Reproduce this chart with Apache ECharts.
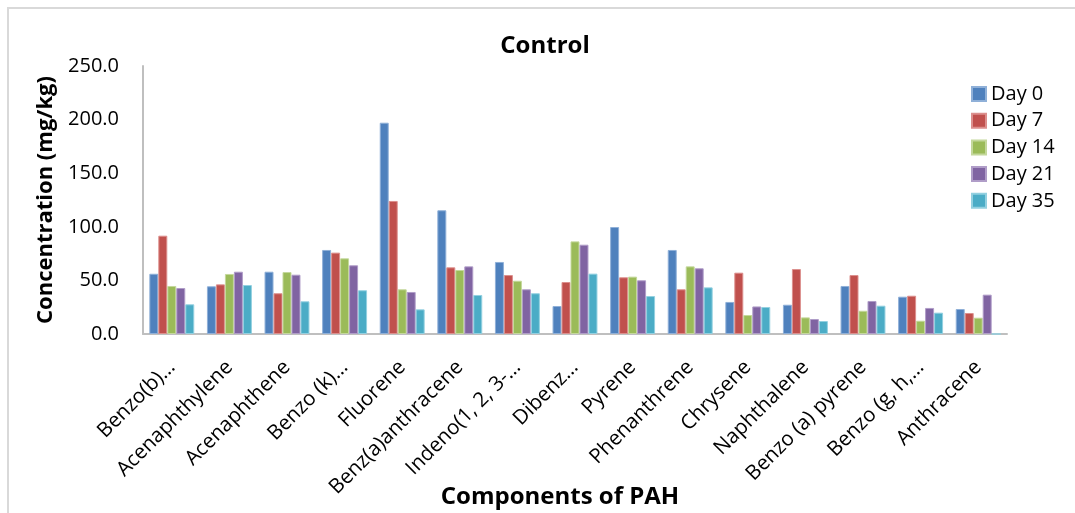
<!DOCTYPE html>
<html>
<head>
<meta charset="utf-8">
<title>Control</title>
<script src="https://cdn.jsdelivr.net/npm/echarts@6/dist/echarts.min.js"></script>
<style>
  html, body { margin: 0; padding: 0; background: #ffffff; }
  #chart { width: 1075px; height: 513px; }
</style>
</head>
<body>
<div id="chart"></div>
<script>
// PAH components (x-axis categories, truncated as in the source sheet)
const categories = [
  'Benzo(b)…', 'Acenaphthylene', 'Acenaphthene', 'Benzo (k)…', 'Fluorene',
  'Benz(a)anthracene', 'Indeno(1, 2, 3-…', 'Dibenz…', 'Pyrene', 'Phenanthrene',
  'Chrysene', 'Naphthalene', 'Benzo (a) pyrene', 'Benzo (g, h,…', 'Anthracene'
];

// Concentration (mg/kg) per sampling day
const day0  = [56.2, 44.5, 58.1, 78.4, 197.1, 115.4, 67.2, 26.1, 99.8, 78.4, 29.9, 27.3, 44.8, 34.8, 23.3];
const day7  = [91.7, 46.3, 38.0, 75.9, 124.1, 62.2, 55.0, 48.5, 52.9, 41.7, 57.2, 60.6, 55.0, 35.7, 19.6];
const day14 = [44.8, 56.0, 57.8, 70.6, 41.7, 59.7, 49.7, 86.4, 53.5, 63.1, 17.7, 15.5, 21.7, 12.4, 15.2];
const day21 = [42.9, 58.1, 55.3, 64.1, 39.2, 63.1, 41.7, 83.3, 50.1, 61.3, 25.7, 14.0, 30.8, 24.3, 36.7];
const day35 = [27.7, 45.7, 30.5, 40.8, 23.0, 36.4, 38.0, 56.3, 35.4, 43.5, 25.2, 12.1, 26.4, 19.9, 0];

const seriesNames = ['Day 0', 'Day 7', 'Day 14', 'Day 21', 'Day 35'];
const seriesData = [day0, day7, day14, day21, day35];
const yTicks = { min: 0, max: 250, interval: 50 };

const palette = ['#4F81BD', '#C0504D', '#9BBB59', '#8064A2', '#4BACC6'];
const edges   = ['#8fb0d8', '#dc8f8d', '#c4d89c', '#b09dc8', '#93d0e0'];
const FONT = '"Open Sans", "Noto Sans", sans-serif';

const chart = echarts.init(document.getElementById('chart'), null, { renderer: 'canvas' });

chart.setOption({
  backgroundColor: '#ffffff',
  animation: false,
  color: palette,
  textStyle: { fontFamily: FONT, color: '#000000' },
  title: [
    {
      text: 'Control',
      left: 545, top: 34, padding: 0, textAlign: 'center',
      textStyle: { fontFamily: FONT, fontSize: 24, fontWeight: 'bold', color: '#000000' }
    },
    {
      text: 'Components of PAH',
      left: 560, top: 485, padding: 0, textAlign: 'center',
      textStyle: { fontFamily: FONT, fontSize: 24, fontWeight: 'bold', color: '#000000' }
    }
  ],
  legend: {
    orient: 'vertical',
    left: 971, top: 84,
    padding: 0,
    itemWidth: 14, itemHeight: 14,
    itemGap: 6.7,
    icon: 'rect',
    textStyle: { fontFamily: FONT, fontSize: 20, color: '#000000', lineHeight: 20 },
    data: seriesNames
  },
  grid: { left: 143, right: 68, top: 66, bottom: 179, containLabel: false },
  xAxis: {
    type: 'category',
    data: categories,
    axisLine: { show: true, lineStyle: { color: '#bfbfbf', width: 2 } },
    axisTick: { show: false },
    axisLabel: {
      rotate: 45, interval: 0, margin: 30,
      fontFamily: FONT, fontSize: 20.5, color: '#000000'
    }
  },
  yAxis: {
    type: 'value',
    min: yTicks.min, max: yTicks.max, interval: yTicks.interval,
    name: 'Concentration (mg/kg)',
    nameLocation: 'middle',
    nameGap: 86,
    nameTextStyle: { fontFamily: FONT, fontSize: 22, fontWeight: 'bold', color: '#000000' },
    axisLine: { show: true, lineStyle: { color: '#bfbfbf', width: 2 } },
    axisTick: { show: false },
    splitLine: { show: false },
    axisLabel: {
      margin: 24,
      fontFamily: FONT, fontSize: 20, color: '#000000',
      formatter: v => v.toFixed(1)
    }
  },
  series: seriesNames.map((name, i) => ({
    name,
    type: 'bar',
    data: seriesData[i],
    barGap: '0%',
    barCategoryGap: '22%',
    itemStyle: { color: palette[i], borderColor: edges[i], borderWidth: 1 }
  })),
  graphic: [
    { type: 'line', shape: { x1: 8, y1: 7, x2: 8, y2: 513 }, style: { stroke: '#d9d9d9', lineWidth: 2 }, silent: true },
    { type: 'line', shape: { x1: 7, y1: 8, x2: 1075, y2: 8 }, style: { stroke: '#d9d9d9', lineWidth: 2 }, silent: true }
  ]
});
</script>
</body>
</html>
